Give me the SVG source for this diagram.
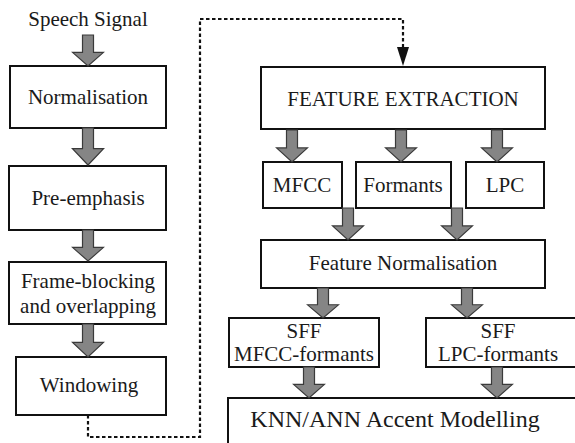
<svg xmlns="http://www.w3.org/2000/svg" width="575" height="443" viewBox="0 0 575 443" font-family="Liberation Serif, DejaVu Serif, serif">
  <style>
    .box { fill: #ffffff; stroke: #111111; stroke-width: 2; }
    .lbl { font-family: 'Liberation Serif', 'DejaVu Serif', serif; font-size: 21px; fill: #1a1a1a; text-anchor: middle; }
    .big { font-size: 24px; }
    .flow { fill: #858585; stroke: #3a3a3a; stroke-width: 1.2; stroke-linejoin: miter; }
    .dots { fill: none; stroke: #111111; stroke-width: 2.2; stroke-dasharray: 3.5 2.5; }
  </style>
  <defs>
    <!-- block arrow, origin at its tip, pointing down; 34 px long by default -->
    <path id="blk" d="M-5.5,-34 H5.5 V-15 H15.5 L0,0 L-15.5,-15 H-5.5 Z"/>
  </defs>
  <rect width="575" height="443" fill="#ffffff"/>

  <text id="input" class="lbl" x="88" y="26">Speech Signal</text>

  <!-- left column: pre-processing -->
  <g id="normalisation">
    <rect class="box" x="10" y="66" width="156" height="62"/>
    <text class="lbl" x="88" y="104">Normalisation</text>
  </g>
  <g id="pre-emphasis">
    <rect class="box" x="9" y="166" width="157" height="64"/>
    <text class="lbl" x="88" y="205">Pre-emphasis</text>
  </g>
  <g id="frame-blocking">
    <rect class="box" x="9" y="262" width="157" height="62"/>
    <text class="lbl" x="88" y="288">Frame-blocking</text>
    <text class="lbl" x="88" y="313">and overlapping</text>
  </g>
  <g id="windowing">
    <rect class="box" x="16" y="357" width="150" height="58"/>
    <text class="lbl" x="89" y="392">Windowing</text>
  </g>

  <!-- right column: features and modelling -->
  <g id="feature-extraction">
    <rect class="box" x="261" y="67" width="284" height="62"/>
    <text class="lbl" x="403" y="106">FEATURE EXTRACTION</text>
  </g>
  <g id="mfcc">
    <rect class="box" x="263" y="162" width="79" height="46"/>
    <text class="lbl" x="302" y="192">MFCC</text>
  </g>
  <g id="formants">
    <rect class="box" x="356" y="162" width="95" height="46"/>
    <text class="lbl" x="403" y="192">Formants</text>
  </g>
  <g id="lpc">
    <rect class="box" x="466" y="162" width="78" height="46"/>
    <text class="lbl" x="505" y="192">LPC</text>
  </g>
  <g id="feature-normalisation">
    <rect class="box" x="261" y="240" width="284" height="48"/>
    <text class="lbl" x="403" y="270">Feature Normalisation</text>
  </g>
  <g id="sff-mfcc-formants">
    <rect class="box" x="229" y="318" width="150" height="49"/>
    <text class="lbl" x="304" y="338">SFF</text>
    <text class="lbl" x="304" y="361">MFCC-formants</text>
  </g>
  <g id="sff-lpc-formants">
    <rect class="box" x="426" y="318" width="160" height="49"/>
    <text class="lbl" x="498" y="338">SFF</text>
    <text class="lbl" x="498" y="361">LPC-formants</text>
  </g>
  <g id="accent-modelling">
    <rect class="box" x="228" y="398" width="360" height="60"/>
    <text class="lbl big" x="395" y="427">KNN/ANN Accent Modelling</text>
  </g>

  <g id="connectors">
    <!-- block arrows -->
    <use href="#blk" class="flow" transform="translate(88,66) scale(1,0.91)"/>
    <use href="#blk" class="flow" transform="translate(88,165) scale(1,1.09)"/>
    <use href="#blk" class="flow" transform="translate(88,261) scale(1,0.91)"/>
    <use href="#blk" class="flow" transform="translate(88,357) scale(1,0.97)"/>

    <use href="#blk" class="flow" transform="translate(292,162) scale(1,0.94)"/>
    <use href="#blk" class="flow" transform="translate(401,162) scale(1,0.94)"/>
    <use href="#blk" class="flow" transform="translate(497,162) scale(1,0.94)"/>

    <use href="#blk" class="flow" transform="translate(348,240) scale(1,0.94)"/>
    <use href="#blk" class="flow" transform="translate(457,240) scale(1,0.94)"/>

    <use href="#blk" class="flow" transform="translate(323,318) scale(1,0.88)"/>
    <use href="#blk" class="flow" transform="translate(467,318) scale(1,0.88)"/>

    <use href="#blk" class="flow" transform="translate(309,398) scale(1,0.91)"/>
    <use href="#blk" class="flow" transform="translate(497,398) scale(1,0.91)"/>

    <!-- dotted link from windowing to feature extraction -->
    <path class="dots" d="M88,415 V437 H200 V19 H403 V50"/>
    <path d="M397,47 L409,47 L403,66 Z" fill="#111111"/>
  </g>
</svg>
